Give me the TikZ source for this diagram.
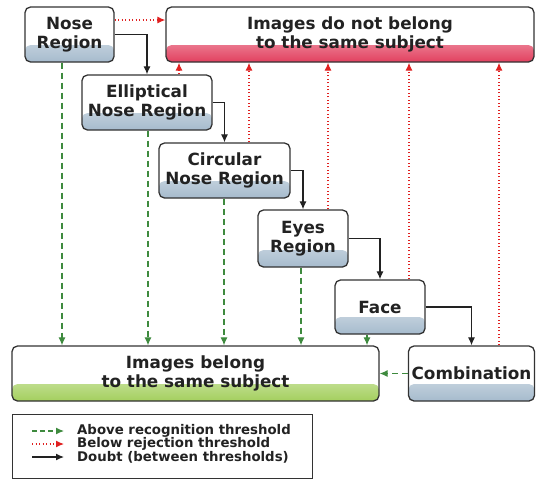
\documentclass[tikz,border=0pt]{standalone}
\usepackage{fontspec}
\setmainfont{DejaVu Sans}
\usetikzlibrary{arrows.meta}
\definecolor{boxline}{HTML}{333333}
\definecolor{procbot}{HTML}{A6BBCD}
\definecolor{rejbot}{HTML}{E2405F}
\definecolor{accbot}{HTML}{A4CF5E}
\definecolor{accgreen}{HTML}{3E8A3E}
\definecolor{rejred}{HTML}{E02020}
\definecolor{txt}{HTML}{222222}
\pgfdeclareverticalshading{procfade}{100bp}{color(0bp)=(procbot); color(25bp)=(procbot); color(50bp)=(procbot!55!white); color(75bp)=(white); color(100bp)=(white)}
\pgfdeclareverticalshading{rejfade}{100bp}{color(0bp)=(rejbot); color(25bp)=(rejbot); color(50bp)=(rejbot!55!white); color(75bp)=(white); color(100bp)=(white)}
\pgfdeclareverticalshading{accfade}{100bp}{color(0bp)=(accbot); color(25bp)=(accbot); color(50bp)=(accbot!55!white); color(75bp)=(white); color(100bp)=(white)}
\tikzset{
  basebox/.style={draw=boxline, line width=1.3pt, rounded corners=5.5pt, fill=white,
    align=center, inner sep=0pt, text=txt,
    font=\bfseries\fontsize{16.8}{19.5}\selectfont},
  grad/.style={path picture={\shade[shading=#1]
    (path picture bounding box.south west) rectangle ([yshift=17pt]path picture bounding box.south east);}},
  tip/.style={-{Latex[length=8pt,width=7pt]}},
  doubt/.style={tip, draw=txt, line width=1.2pt},
  accept/.style={tip, draw=accgreen, line width=1.2pt, dash pattern=on 6pt off 4pt},
  reject/.style={tip, draw=rejred, line width=1.2pt, dash pattern=on 1pt off 2.5pt},
  legtext/.style={anchor=west, inner sep=0pt, text=txt, font=\bfseries\fontsize{13.3}{15}\selectfont},
}
\begin{document}
\begin{tikzpicture}[x=1pt, y=-1pt]
\useasboundingbox (0,0) rectangle (536,480);

% boxes
\node[basebox, grad=procfade, minimum width=89pt, minimum height=55pt] (nose) at (69.5,34.5) {Nose\\Region};
\node[basebox, grad=rejfade, minimum width=368pt, minimum height=55pt] (rej) at (350,34.5) {Images do not belong\\to the same subject};
\node[basebox, grad=procfade, minimum width=130pt, minimum height=55pt] (ell) at (147,102.5) {Elliptical\\Nose Region};
\node[basebox, grad=procfade, minimum width=131pt, minimum height=55pt] (circ) at (224.5,170.5) {Circular\\Nose Region};
\node[basebox, grad=procfade, minimum width=90pt, minimum height=57pt] (eyes) at (303,238.5) {Eyes\\Region};
\node[basebox, grad=procfade, minimum width=90pt, minimum height=54pt] (face) at (380,307) {Face};
\node[basebox, grad=accfade, minimum width=367pt, minimum height=55pt] (acc) at (195.5,373.5) {Images belong\\to the same subject};
\node[basebox, grad=procfade, minimum width=126pt, minimum height=55pt] (comb) at (471.5,373.5) {Combination};

% doubt arrows
\draw[doubt] (nose.east) -| (ell.north);
\draw[doubt] (ell.east) -| (circ.north);
\draw[doubt] (circ.east) -| (eyes.north);
\draw[doubt] (eyes.east) -| (face.north);
\draw[doubt] (face.east) -| (comb.north);

% accept arrows
\draw[accept] (nose.south -| 62,0) -- (acc.north -| 62,0);
\draw[accept] (ell.south -| 148,0) -- (acc.north -| 148,0);
\draw[accept] (circ.south -| 224,0) -- (acc.north -| 224,0);
\draw[accept] (eyes.south -| 301,0) -- (acc.north -| 301,0);
\draw[accept] (face.south -| 367,0) -- (acc.north -| 367,0);
\draw[accept] (comb.west) -- (acc.east |- comb.west);

% reject arrows
\draw[reject] (nose.east |- 0,20) -- (rej.west |- 0,20);
\draw[reject] (ell.north -| 179,0) -- (rej.south -| 179,0);
\draw[reject] (circ.north -| 249,0) -- (rej.south -| 249,0);
\draw[reject] (eyes.north -| 328,0) -- (rej.south -| 328,0);
\draw[reject] (face.north -| 409,0) -- (rej.south -| 409,0);
\draw[reject] (comb.north -| 499,0) -- (rej.south -| 499,0);

% legend
\node[draw=boxline, line width=1pt, minimum width=300pt, minimum height=64pt, inner sep=0pt] (leg) at (162,446) {};
\coordinate (a1) at (32,431); \coordinate (b1) at (64,431);
\coordinate (a2) at (32,444); \coordinate (b2) at (64,444);
\coordinate (a3) at (32,457); \coordinate (b3) at (64,457);
\draw[accept, dash pattern=on 5pt off 3pt] (a1) -- (b1);
\draw[reject] (a2) -- (b2);
\draw[doubt] (a3) -- (b3);
\node[legtext] (t1) at (77,431) {Above recognition threshold};
\node[legtext] (t2) at (77,444) {Below rejection threshold};
\node[legtext] (t3) at (77,457) {Doubt (between thresholds)};
\end{tikzpicture}
\end{document}
